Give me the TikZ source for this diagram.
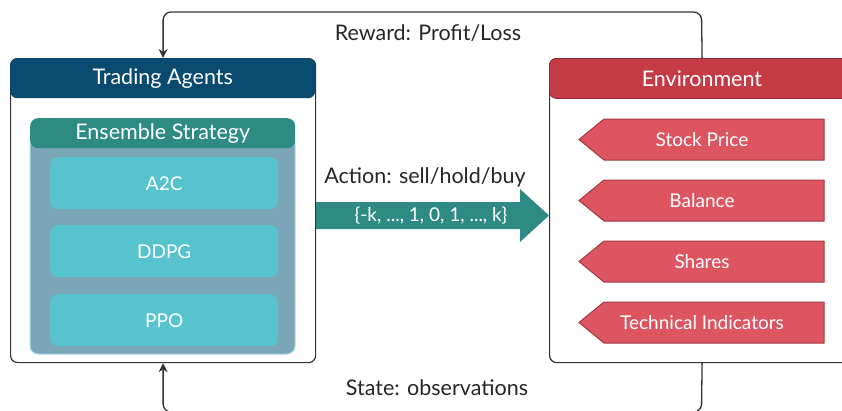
\documentclass[tikz,border=0pt]{standalone}
\usepackage{fontspec}
\setmainfont{Lato}
\usetikzlibrary{arrows.meta}
\definecolor{agentblue}{HTML}{0A4A6E}
\definecolor{ensteal}{HTML}{2E8B84}
\definecolor{ensbody}{HTML}{7BA6B8}
\definecolor{ensedge}{HTML}{A9DCEB}
\definecolor{algo}{HTML}{56C3CF}
\definecolor{envred}{HTML}{C43A45}
\definecolor{envedge}{HTML}{8E2A33}
\definecolor{pentred}{HTML}{DC5561}
\definecolor{pentedge}{HTML}{A23842}
\definecolor{linegray}{HTML}{333333}
\tikzset{
  outerbox/.style={draw=linegray, line width=1.2pt, rounded corners=7pt, fill=white,
    minimum width=305pt, minimum height=304pt, anchor=north west, inner sep=0pt},
  headbox/.style={rounded corners=7pt, minimum width=305pt, minimum height=40pt,
    anchor=north west, inner sep=0pt, text=white, font=\fontsize{21.5}{24}\selectfont},
  algobox/.style={fill=algo, rounded corners=8pt, minimum width=228pt, minimum height=52pt,
    anchor=north west, inner sep=0pt, text=white, font=\fontsize{19}{22}\selectfont},
  pentlabel/.style={text=white, font=\fontsize{19}{22}\selectfont, inner sep=0pt},
  flowlabel/.style={text=black!85, font=\fontsize{21.5}{24}\selectfont, inner sep=0pt},
  loopline/.style={draw=linegray, line width=1.3pt, rounded corners=8pt},
}
\newcommand{\pentshape}[3]{%
  \fill[pentred, draw=pentedge, line width=1pt]
    (604,#2) -- (824,#2) -- (824,#2+41) -- (604,#2+41) -- (579,#2+20.5) -- cycle;
  \node[pentlabel] (#1) at (702,#2+20.5) {#3};
}
\begin{document}
\begin{tikzpicture}[x=1pt,y=-1pt]
\useasboundingbox (0,0) rectangle (842,410);
\begin{scope}
\clip (0,0) rectangle (842,410);
% loops
\node[outerbox] (agent) at (10,58) {};
\node[outerbox] (env) at (549,58) {};
\coordinate (topr) at (701.5,12);
\coordinate (botr) at (701.5,412);
\draw[loopline, -{Stealth[length=9pt,width=9pt]}] (env.north) -- (topr) -| (agent.north);
\draw[loopline, -{Stealth[length=9pt,width=9pt]}] (env.south) -- (botr) -| (agent.south);
% agent box
\node[headbox, fill=agentblue] (agenthead) at (10,58) {Trading Agents};
\fill[ensbody, draw=ensedge, line width=1pt, rounded corners=8pt] (30,135) rectangle (295,354);
\node[fill=ensteal, rounded corners=8pt, minimum width=265pt, minimum height=30pt,
  anchor=north west, inner sep=0pt, text=white, font=\fontsize{21.5}{24}\selectfont]
  (enshead) at (30,118) {Ensemble Strategy};
\node[algobox] (a2c) at (50,157) {A2C};
\node[algobox] (ddpg) at (50,225) {DDPG};
\node[algobox] (ppo) at (50,294) {PPO};
% environment
\node[headbox, fill=envred, draw=envedge, line width=0.8pt] (envhead) at (549,58) {Environment};
\pentshape{price}{119}{Stock Price}
\pentshape{balance}{180}{Balance}
\pentshape{shares}{241}{Shares}
\pentshape{tech}{302}{Technical Indicators}
% action arrow
\fill[ensteal] (agent.east |- 0,202) -- (520,202) -- (520,189) -- (env.west |- 0,215.5)
  -- (520,242) -- (520,229) -- (agent.east |- 0,229) -- cycle;
\node[text=white, font=\fontsize{19}{22}\selectfont, inner sep=0pt] (actvals) at (431,215.5)
  {\{-k, ..., 1, 0, 1, ..., k\}};
\node[flowlabel] (actlabel) at (425,177) {Action: sell/hold/buy};
\node[flowlabel] (reward) at (428,33) {Reward: Profit/Loss};
\node[flowlabel] (state) at (437,388) {State: observations};
\end{scope}
\end{tikzpicture}
\end{document}
